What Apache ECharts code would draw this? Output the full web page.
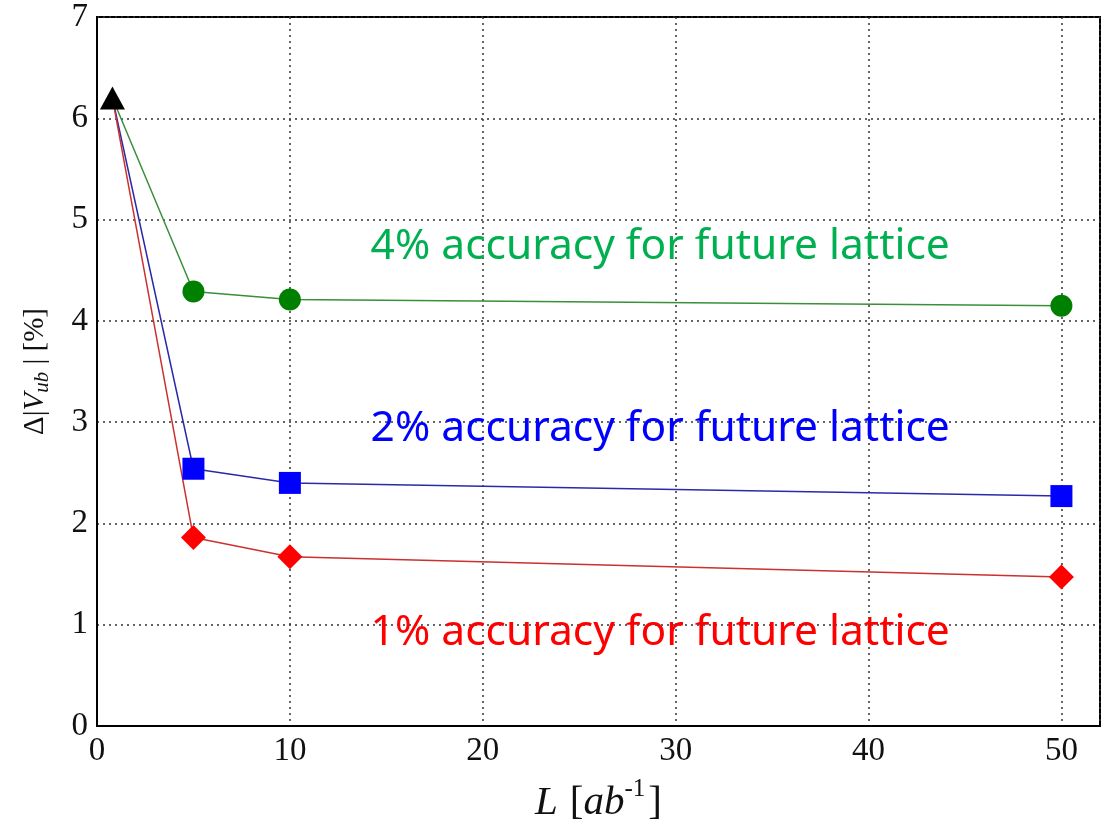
<!DOCTYPE html>
<html>
<head>
<meta charset="utf-8">
<script src="https://cdn.jsdelivr.net/npm/echarts@6/dist/echarts.min.js"></script>
<style>html,body{margin:0;padding:0;background:#fff}#c{width:1107px;height:829px}</style>
</head>
<body>
<div id="c"></div>
<script>
// Data
const startPoint = [0.8, 6.2];
const lumi = [5, 10, 50];
const green4 = [4.29, 4.21, 4.15];
const blue2 = [2.54, 2.40, 2.27];
const red1 = [1.86, 1.67, 1.47];
const xTicks = [0, 10, 20, 30, 40, 50];
const yTicks = [0, 1, 2, 3, 4, 5, 6, 7];
const annotations = [
  {text: '4% accuracy for future lattice', x: 29.2, y: 4.73, color: '#00b050'},
  {text: '2% accuracy for future lattice', x: 29.2, y: 2.93, color: '#0000ff'},
  {text: '1% accuracy for future lattice', x: 29.2, y: 0.92, color: '#ff0000'}
];

function withStart(vals){
  return [{value:startPoint, symbol:'none'}].concat(lumi.map((x,i)=>[x, vals[i]]));
}

const serif = '"Liberation Serif", "DejaVu Serif", serif';
const chart = echarts.init(document.getElementById('c'), null, {renderer:'canvas'});
const gridLine = {show:true, lineStyle:{color:'#333', type:[2,4], width:1.5}};

chart.setOption({
  animation:false,
  backgroundColor:'#fff',
  grid:{left:97, top:17, right:7, bottom:101, show:true, borderColor:'#000', borderWidth:2, backgroundColor:'transparent'},
  xAxis:{
    type:'value', min:0, max:52, interval:10,
    axisLine:{show:true, lineStyle:{color:'#000', width:2}},
    axisTick:{show:false},
    splitLine:gridLine,
    axisLabel:{fontFamily:serif, fontSize:33, color:'#111', margin:9,
      formatter:v=> xTicks.includes(v) ? String(v) : ''},
    name:'{i|L}{sp| }{n|[}{i|ab}{s|-1}{n|]}',
    nameLocation:'middle', nameGap:51,
    nameTextStyle:{rich:{
      i:{fontFamily:serif, fontStyle:'italic', fontSize:41, color:'#111', verticalAlign:'bottom'},
      sp:{fontFamily:serif, fontSize:41, color:'#111', width:12},
      n:{fontFamily:serif, fontSize:41, color:'#111', verticalAlign:'bottom'},
      s:{fontFamily:serif, fontSize:25, color:'#111', verticalAlign:'top', padding:[0,3,22,0]}
    }}
  },
  yAxis:{
    type:'value', min:0, max:7, interval:1,
    axisLine:{show:true, lineStyle:{color:'#000', width:2}},
    axisTick:{show:false},
    splitLine:gridLine,
    axisLabel:{fontFamily:serif, fontSize:33, color:'#111', margin:9,
      formatter:v=> yTicks.includes(v) ? String(v) : ''},
    name:'{n|Δ|}{i|V}{sub|ub}{n| | [%]}',
    nameLocation:'middle', nameRotate:90, nameGap:44,
    nameTextStyle:{rich:{
      i:{fontFamily:serif, fontStyle:'italic', fontSize:29, color:'#111'},
      n:{fontFamily:serif, fontSize:29, color:'#111'},
      sub:{fontFamily:serif, fontStyle:'italic', fontSize:21, color:'#111', padding:[14,0,0,0]}
    }}
  },
  series:[
    {type:'line', data:withStart(green4), symbol:'circle', symbolSize:22,
      itemStyle:{color:'#008000'}, lineStyle:{color:'#3a8f3a', width:1.5}, z:3},
    {type:'line', data:withStart(blue2), symbol:'rect', symbolSize:22,
      itemStyle:{color:'#0000ff'}, lineStyle:{color:'#2a2aa8', width:1.5}, z:3},
    {type:'line', data:withStart(red1), symbol:'diamond', symbolSize:[25,25],
      itemStyle:{color:'#ff0000'}, lineStyle:{color:'#cc3030', width:1.5}, z:3},
    {type:'scatter', data:[startPoint], symbol:'triangle', symbolSize:[25,23],
      itemStyle:{color:'#000', opacity:1}, z:5},
    {type:'scatter', symbolSize:0, z:6, silent:true, itemStyle:{opacity:1},
      data:annotations.map(a=>({value:[a.x,a.y], name:a.text,
        label:{show:true, position:'inside', formatter:a.text, color:a.color, opacity:1,
          fontFamily:'"Noto Sans", "Open Sans", sans-serif', fontSize:42.5}}))}
  ]
});
</script>
</body>
</html>
